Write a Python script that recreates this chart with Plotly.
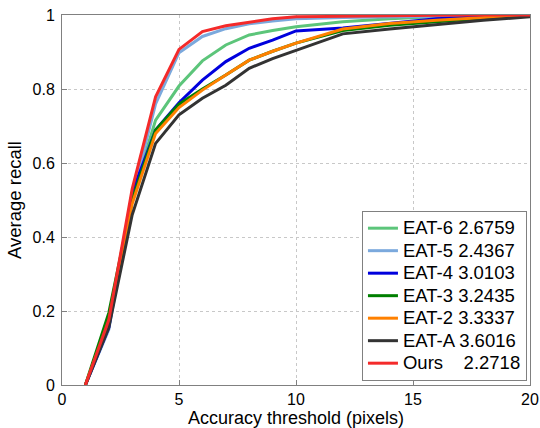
import plotly.graph_objects as go

thresholds = [1, 2, 3, 4, 5, 6, 7, 8, 9, 10, 12, 14, 16, 18, 20]

eat6 = [0.0, 0.17, 0.51, 0.716, 0.808, 0.876, 0.919, 0.946, 0.958, 0.968, 0.982, 0.99, 0.995, 0.998, 1.0]
eat5 = [0.0, 0.15, 0.51, 0.76, 0.898, 0.942, 0.963, 0.976, 0.984, 0.99, 0.993, 0.995, 0.997, 0.999, 1.0]
eat4 = [0.0, 0.155, 0.52, 0.689, 0.763, 0.824, 0.874, 0.91, 0.932, 0.957, 0.965, 0.978, 0.99, 0.995, 1.0]
eat3 = [0.0, 0.195, 0.5, 0.689, 0.759, 0.80, 0.838, 0.878, 0.902, 0.924, 0.958, 0.972, 0.982, 0.992, 1.0]
eat2 = [0.0, 0.17, 0.49, 0.68, 0.75, 0.797, 0.838, 0.878, 0.902, 0.924, 0.962, 0.977, 0.986, 0.993, 1.0]
eata = [0.0, 0.155, 0.46, 0.653, 0.73, 0.775, 0.81, 0.856, 0.882, 0.905, 0.949, 0.962, 0.975, 0.986, 0.995]
ours = [0.0, 0.176, 0.53, 0.779, 0.907, 0.955, 0.971, 0.981, 0.99, 0.995, 0.997, 0.998, 0.999, 1.0, 1.0]

names = ["EAT-6 2.6759", "EAT-5 2.4367", "EAT-4 3.0103", "EAT-3 3.2435",
         "EAT-2 3.3337", "EAT-A 3.6016", "Ours\u00a0\u00a0\u00a0\u00a02.2718"]
series = [eat6, eat5, eat4, eat3, eat2, eata, ours]
colors = ["#5cc57a", "#7ba9dd", "#0000dd", "#007f00", "#ff8000", "#333333", "#f42a2a"]

fig = go.Figure()
for n, s, c in zip(names, series, colors):
    fig.add_trace(go.Scatter(x=thresholds, y=s, mode="lines",
                             name='<span style="font-size:18.5px">' + n + '</span>',
                             line=dict(color=c, width=3)))

axis_common = dict(
    showline=True, linecolor="#808080", linewidth=1, mirror=True,
    ticks="inside", ticklen=5, tickcolor="#808080",
    showgrid=True, gridcolor="#c8c8c8", griddash="dot", gridwidth=1,
    zeroline=False,
    tickfont=dict(size=16, color="#000000"),
)

fig.update_layout(
    width=540, height=428,
    margin=dict(l=62, r=10, t=15, b=43, autoexpand=False),
    paper_bgcolor="white", plot_bgcolor="white",
    font=dict(family="Liberation Sans, Arial, sans-serif", color="#000000"),
    xaxis=dict(range=[0, 20], tickvals=[0, 5, 10, 15, 20], ticklabelstandoff=0,
               title=dict(text="Accuracy threshold (pixels)", standoff=5,
                          font=dict(size=18, color="#000000")), **axis_common),
    yaxis=dict(range=[0, 1], tickvals=[0, 0.2, 0.4, 0.6, 0.8, 1],
               ticktext=["0", "0.2", "0.4", "0.6", "0.8", "1"], ticklabelstandoff=3,
               title=dict(text="Average recall", standoff=6,
                          font=dict(size=18.5, color="#000000")), **axis_common),
    legend=dict(x=0.9935, y=0.011, xanchor="right", yanchor="bottom",
                bgcolor="white", bordercolor="#808080", borderwidth=1,
                font=dict(size=15, color="#000000"), tracegroupgap=0,
                itemwidth=30),
    showlegend=True,
)

fig.write_html("out.html", config={"displayModeBar": False},
               post_script="document.body.style.margin='0';document.body.style.padding='0';")
